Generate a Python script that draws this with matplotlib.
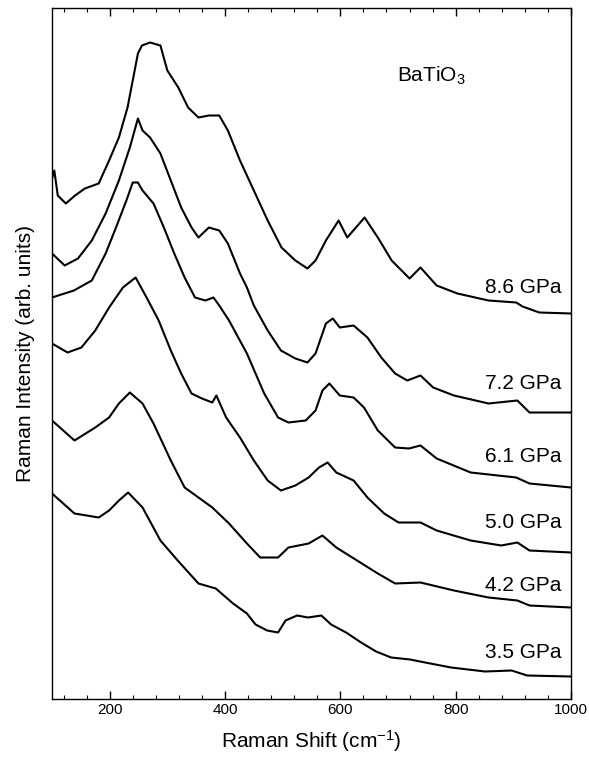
import matplotlib
matplotlib.use("Agg")
import matplotlib.pyplot as plt
from matplotlib.ticker import MultipleLocator, NullLocator

plt.rcParams['font.family'] = ['Liberation Sans', 'DejaVu Sans']
plt.rcParams['mathtext.fontset'] = 'custom'
plt.rcParams['mathtext.rm'] = 'Liberation Sans'
plt.rcParams['mathtext.it'] = 'Liberation Sans'
plt.rcParams['mathtext.default'] = 'regular'

# Raman shift (cm^-1) and stacked intensities (arb. units)
wn_86 = [100, 104, 110, 124, 140, 157, 181, 199, 216, 231, 240, 249, 256, 270, 288, 300, 319, 336, 354, 372,
         390, 405, 426, 450, 474, 498, 522, 543, 557, 575, 597, 612, 642, 665, 689, 720, 739, 767, 803, 857,
         905, 916, 945, 1000]
int_86 = [520, 528, 503, 495, 503, 510, 515, 538, 561, 591, 618, 645, 653, 656, 653, 628, 611, 591, 581, 583,
          583, 568, 538, 508, 478, 451, 438, 430, 438, 458, 478, 461, 481, 461, 438, 420, 431, 413, 405, 398,
          396, 392, 386, 385]

wn_72 = [100, 122, 145, 169, 193, 216, 235, 249, 257, 270, 288, 306, 324, 342, 354, 372, 390, 405, 426, 438,
         450, 474, 497, 522, 543, 557, 575, 587, 599, 623, 647, 671, 695, 716, 739, 761, 797, 857, 907, 928, 1000]
int_72 = [445, 433, 440, 458, 485, 518, 551, 580, 568, 561, 545, 518, 491, 471, 461, 471, 468, 455, 425, 411,
          393, 368, 348, 340, 336, 345, 375, 380, 371, 373, 361, 341, 325, 318, 323, 311, 303, 295, 298, 286, 286]

wn_61 = [100, 138, 169, 193, 211, 229, 240, 249, 257, 276, 294, 312, 330, 348, 366, 380, 390, 407, 438, 468,
         492, 510, 540, 557, 569, 581, 599, 623, 641, 665, 695, 719, 739, 767, 826, 905, 928, 1000]
int_61 = [401, 408, 418, 445, 471, 498, 516, 516, 508, 495, 471, 445, 421, 401, 398, 401, 393, 378, 345, 305,
          281, 276, 278, 288, 308, 315, 303, 301, 291, 268, 251, 250, 253, 240, 226, 221, 215, 211]

wn_50 = [100, 127, 151, 175, 199, 223, 245, 264, 285, 306, 324, 342, 360, 378, 385, 402, 426, 450, 474, 497,
         522, 545, 563, 578, 593, 623, 647, 676, 701, 739, 767, 826, 879, 907, 928, 1000]
int_50 = [355, 346, 351, 368, 391, 411, 421, 401, 378, 348, 325, 305, 300, 296, 303, 281, 261, 238, 218, 208,
          213, 221, 231, 236, 226, 218, 201, 185, 176, 176, 168, 158, 153, 156, 148, 146]

wn_42 = [100, 139, 175, 199, 216, 235, 257, 276, 306, 330, 354, 378, 407, 438, 461, 492, 510, 545, 569, 593,
         629, 665, 695, 739, 797, 857, 907, 928, 1000]
int_42 = [278, 258, 271, 281, 295, 306, 295, 275, 238, 211, 201, 191, 175, 155, 141, 141, 151, 155, 163, 151,
          138, 125, 115, 116, 108, 101, 98, 93, 91]

wn_35 = [100, 139, 181, 199, 216, 232, 257, 288, 318, 354, 384, 414, 438, 453, 473, 492, 505, 525, 544, 567,
         584, 610, 636, 662, 688, 721, 747, 792, 851, 897, 924, 1000]
int_35 = [205, 185, 181, 188, 198, 206, 191, 158, 138, 115, 110, 95, 85, 74, 68, 66, 78, 83, 81, 83,
          74, 66, 56, 47, 41, 39, 36, 31, 27, 28, 23, 22]

labels = ["8.6 GPa", "7.2 GPa", "6.1 GPa", "5.0 GPa", "4.2 GPa", "3.5 GPa"]
label_y = [411, 315, 242, 176, 113, 46]

series = [(wn_86, int_86), (wn_72, int_72), (wn_61, int_61),
          (wn_50, int_50), (wn_42, int_42), (wn_35, int_35)]

fig = plt.figure(figsize=(5.89, 7.62), dpi=100)
ax = fig.add_axes([52 / 589, 1 - 698.5 / 762, (571 - 52) / 589, (698.5 - 8) / 762])

for wn, inten in series:
    ax.plot(wn, inten, color='black', lw=1.5, solid_joinstyle='round')

for lab, ly in zip(labels, label_y):
    ax.text(984, ly, lab, ha='right', va='center', fontsize=15)

ax.text(699, 623, "BaTiO$_3$", ha='left', va='center', fontsize=15)

ax.set_xlim(100, 1000)
ax.set_ylim(0, 690.5)
ax.xaxis.set_major_locator(MultipleLocator(200))
ax.xaxis.set_minor_locator(MultipleLocator(40))
ax.yaxis.set_major_locator(NullLocator())
ax.tick_params(axis='x', which='both', direction='in', top=True, labelsize=11)
ax.tick_params(axis='x', which='major', length=6, width=1)
ax.tick_params(axis='x', which='minor', length=3, width=0.8)
for s in ax.spines.values():
    s.set_linewidth(1.0)

ax.set_xlabel("Raman Shift (cm$^{-1}$)", fontsize=15, labelpad=8)
ax.set_ylabel("Raman Intensity (arb. units)", fontsize=15, labelpad=12)

fig.savefig("out.png", dpi=100)
